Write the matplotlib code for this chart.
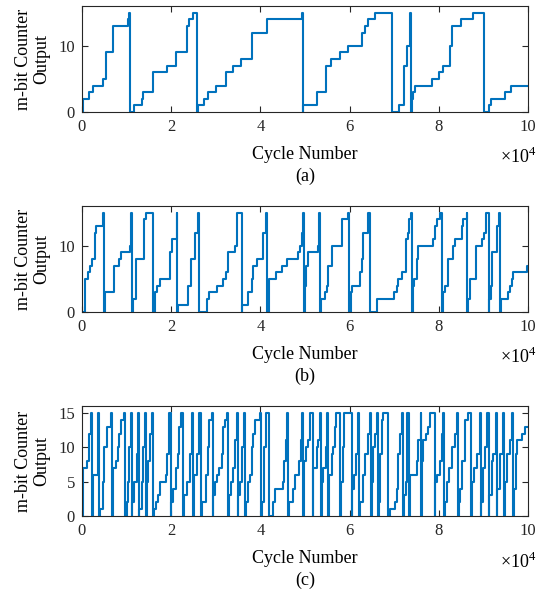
import matplotlib
matplotlib.use("Agg")
import matplotlib.pyplot as plt
from matplotlib.ticker import FuncFormatter

plt.rcParams['font.family'] = ['Liberation Serif', 'DejaVu Serif']
plt.rcParams['mathtext.fontset'] = 'custom'
plt.rcParams['mathtext.rm'] = 'Liberation Serif'

# counter output: cycle where the value changes, value after it
a_x = [0, 300, 1640, 2540, 4630, 5380, 7030, 10240, 10610, 10760,
       11730, 13380, 13750, 15840, 19130, 21000, 23470, 23990, 24810, 25860,
       26080, 27430, 28180, 30040, 32290, 33930, 35720, 38040, 38190, 41550,
       49250, 49480, 49630, 52770, 54710, 55760, 57850, 59570, 62710, 63450,
       64200, 65700, 69430, 71080, 72200, 72800, 73540, 73690, 73920, 74290,
       74660, 78400, 80120, 80870, 82510, 82890, 84980, 87740, 90130, 91330,
       91630, 94840, 96110, 100000]
a_y = [0, 2, 3, 4, 5, 9, 13, 14, 15, 0,
       1, 2, 3, 6, 7, 9, 13, 14, 15, 0,
       1, 2, 3, 4, 6, 7, 8, 10, 12, 14,
       15, 0, 1, 3, 7, 8, 9, 10, 12, 13,
       14, 15, 0, 1, 7, 10, 15, 0, 2, 3,
       4, 5, 6, 7, 10, 13, 14, 15, 0, 1,
       2, 3, 4, 4]

b_x = [0, 673, 1420, 1794, 2167, 2915, 3139, 4783, 4932, 5050,
       7100, 8370, 8669, 10762, 10986, 11135, 11509, 12107, 13900, 14349,
       15843, 16367, 16890, 17488, 19730, 20103, 21225, 21375, 21500, 23840,
       24438, 25335, 26082, 26231, 27951, 28473, 30193, 31687, 32211, 32659,
       34303, 34677, 34826, 35798, 35946, 37291, 38040, 38413, 39161, 40654,
       41178, 41551, 41925, 43421, 44765, 46035, 48501, 48876, 49250, 49623,
       49772, 49922, 50221, 50744, 52986, 53210, 53360, 53509, 54481, 54854,
       55228, 56125, 58217, 59712, 59936, 60235, 60608, 62328, 62701, 63075,
       64196, 64570, 66064, 70025, 70548, 70922, 71670, 72641, 73015, 73388,
       73762, 73986, 74136, 74509, 75032, 75406, 78769, 79143, 79517, 80264,
       80638, 81011, 81459, 82132, 83104, 83627, 85121, 85495, 86243, 86392,
       86616, 86990, 88260, 89755, 90128, 90502, 91249, 91324, 91623, 91997,
       92969, 93491, 93716, 93865, 95584, 95958, 96332, 96705, 99695, 100000]
b_y = [0, 5, 6, 7, 8, 12, 13, 15, 0, 3,
       7, 8, 9, 10, 15, 0, 2, 8, 14, 15,
       0, 3, 4, 5, 9, 11, 15, 0, 1, 4,
       8, 12, 15, 0, 2, 3, 4, 5, 6, 9,
       10, 11, 15, 0, 1, 3, 5, 7, 8, 12,
       15, 0, 5, 6, 7, 8, 9, 10, 12, 15,
       0, 4, 7, 9, 10, 15, 0, 2, 3, 4,
       7, 10, 14, 15, 0, 3, 4, 6, 8, 12,
       15, 0, 2, 3, 4, 5, 6, 11, 12, 14,
       15, 0, 4, 5, 8, 10, 11, 13, 14, 15,
       0, 3, 4, 8, 10, 11, 13, 14, 15, 0,
       2, 5, 10, 11, 12, 15, 0, 2, 4, 9,
       13, 15, 0, 2, 3, 4, 5, 6, 7, 7]

c_x = [0, 299, 1196, 1569, 1943, 2167, 2541, 3662, 3886, 4036,
       4633, 4932, 5530, 6502, 6801, 7025, 7623, 8146, 8370, 8669,
       9416, 9641, 10014, 10238, 10612, 10911, 11135, 11285, 11658, 12256,
       12480, 12779, 12854, 13377, 13751, 14125, 14274, 14498, 14872, 15246,
       15619, 15993, 16142, 16591, 16964, 17488, 18833, 19132, 19505, 19879,
       19954, 20477, 21000, 21448, 21747, 22196, 22719, 22868, 23466, 24214,
       24587, 24812, 25110, 25858, 26306, 26680, 26829, 27801, 28324, 28548,
       29071, 29296, 29445, 29819, 30192, 30790, 31313, 31687, 32061, 32434,
       32808, 32957, 33331, 33929, 34303, 34676, 34901, 35050, 35424, 35797,
       36320, 36545, 36694, 37292, 37666, 38039, 38413, 38787, 39908, 40132,
       40281, 40804, 41178, 41925, 42897, 43271, 44989, 45288, 45662, 46036,
       46260, 46409, 47381, 47755, 48651, 49025, 49399, 49623, 49772, 50146,
       50744, 51118, 51716, 51865, 52612, 52986, 53360, 53509, 53733, 54107,
       54705, 55004, 55228, 55452, 55976, 56349, 56723, 56947, 57844, 57993,
       58442, 58815, 60459, 60609, 60982, 61431, 61805, 62178, 62328, 63075,
       63449, 64196, 64570, 64719, 64943, 65317, 65691, 66064, 66438, 66587,
       66812, 67185, 67410, 68605, 69054, 70175, 70548, 70922, 71296, 71669,
       72043, 72192, 72641, 72940, 73388, 73538, 75032, 75406, 75929, 76004,
       76153, 76527, 77125, 77648, 78022, 79068, 79217, 79666, 80264, 80637,
       81011, 81235, 81385, 81908, 82356, 82879, 83627, 84000, 84374, 84523,
       84748, 85121, 85869, 86616, 87139, 87363, 87886, 88484, 89232, 89381,
       89531, 89830, 90353, 90876, 91175, 91324, 91847, 92221, 92744, 92968,
       93118, 93716, 94463, 94687, 94837, 95210, 95958, 96331, 96705, 96854,
       97303, 97602, 98723, 99321, 100000]
c_y = [0, 7, 8, 12, 15, 0, 6, 15, 0, 1,
       5, 10, 13, 15, 0, 7, 8, 10, 12, 14,
       15, 0, 2, 5, 10, 15, 0, 2, 5, 9,
       15, 0, 1, 5, 10, 15, 0, 5, 8, 12,
       15, 0, 1, 2, 3, 5, 6, 9, 15, 0,
       2, 4, 7, 9, 13, 15, 0, 3, 5, 9,
       15, 0, 6, 9, 15, 0, 2, 6, 10, 14,
       15, 0, 3, 5, 6, 7, 9, 13, 14, 15,
       0, 3, 5, 7, 11, 15, 0, 3, 5, 10,
       15, 0, 2, 5, 6, 10, 12, 14, 15, 0,
       2, 10, 15, 0, 2, 4, 5, 8, 11, 15,
       0, 2, 4, 6, 8, 11, 15, 0, 8, 10,
       11, 15, 0, 7, 10, 11, 15, 0, 5, 7,
       10, 15, 0, 6, 9, 10, 13, 15, 0, 5,
       10, 15, 0, 4, 6, 9, 15, 0, 2, 6,
       9, 12, 15, 0, 5, 10, 12, 15, 0, 2,
       9, 14, 15, 0, 1, 2, 4, 9, 12, 15,
       0, 3, 5, 15, 0, 6, 8, 11, 15, 0,
       8, 11, 12, 13, 15, 0, 5, 6, 8, 12,
       15, 0, 2, 5, 7, 10, 12, 15, 0, 2,
       4, 8, 14, 15, 0, 5, 7, 9, 15, 0,
       2, 7, 10, 15, 0, 3, 8, 9, 15, 0,
       4, 9, 15, 0, 5, 9, 11, 15, 0, 4,
       9, 11, 12, 13, 13]

panels = ['(a)', '(b)', '(c)']
yticks = [[0, 10], [0, 10], [0, 5, 10, 15]]
xticks = [0, 20000, 40000, 60000, 80000, 100000]

W, H = 543, 594
fig = plt.figure(figsize=(W / 100, H / 100), dpi=100)
boxes = [(82, 6, 528, 112), (82, 206, 528, 312), (82, 406, 528, 516)]
data = [(a_x, a_y), (b_x, b_y), (c_x, c_y)]

for i, (l, t, r, b) in enumerate(boxes):
    ax = fig.add_axes([l / W, 1 - b / H, (r - l) / W, (b - t) / H])
    x, y = data[i]
    ax.step(x, y, where='post', color='#0072BD', lw=1.5)
    ax.set_xlim(0, 100000)
    ax.set_ylim(0, 16)
    ax.set_xticks(xticks)
    ax.set_yticks(yticks[i])
    ax.xaxis.set_major_formatter(FuncFormatter(lambda v, p: '%g' % (v / 1e4)))
    ax.tick_params(direction='in', top=True, right=True, length=4, width=0.8,
                   labelsize=12, colors='#262626', pad=5)
    for s in ax.spines.values():
        s.set_linewidth(0.8)
        s.set_color('#262626')
    ax.set_xlabel('Cycle Number', fontsize=13, labelpad=8)
    ax.set_ylabel('m-bit Counter\nOutput', fontsize=13, labelpad=6, linespacing=1.1)
    ax.text(1.02, -0.33, r'$\times10^{4}$', transform=ax.transAxes, fontsize=13,
            ha='right', va='top')
    fig.text(305 / W, 1 - (b + 64) / H, panels[i], fontsize=13, ha='center', va='center')

fig.savefig('out.png', dpi=100)
